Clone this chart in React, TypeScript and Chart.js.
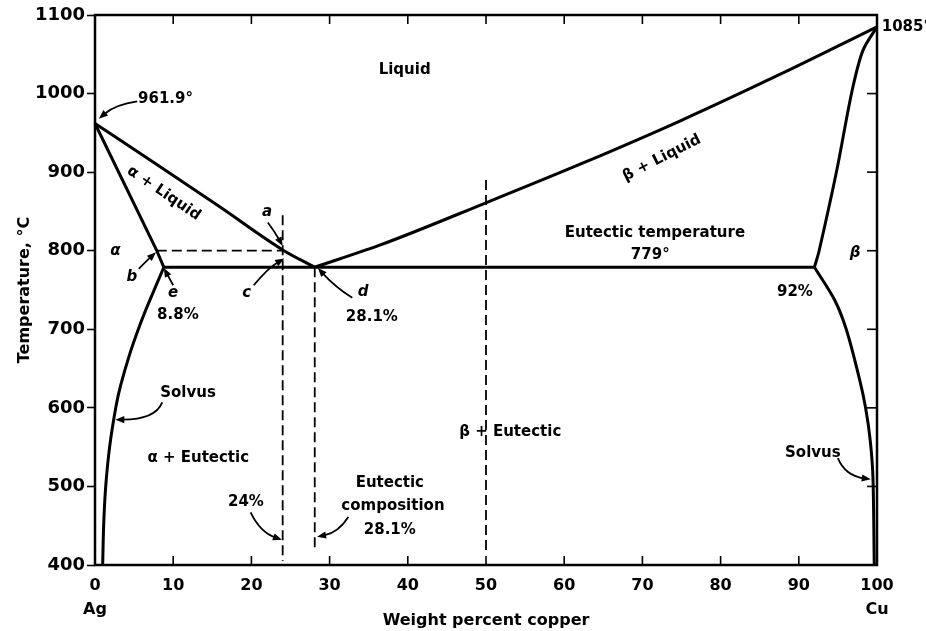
import React, { useEffect, useRef } from 'react';
import { Chart, registerables } from 'chart.js';

Chart.register(...registerables);

// ---------- data (weight % Cu, temperature °C) ----------
const xTicks = [0, 10, 20, 30, 40, 50, 60, 70, 80, 90, 100];
const yTicks = [400, 500, 600, 700, 800, 900, 1000, 1100];

const liquidusAgX = [0, 8, 16, 24, 28.1];
const liquidusAgT = [961.9, 909, 855.5, 801, 779];
const solidusAgX = [0, 7.9, 8.8];
const solidusAgT = [961.9, 800, 779];
const solvusAgX = [8.8, 6.76, 5.65, 4.49, 3.26, 2.67, 1.88, 1.37, 1.11, 0.98];
const solvusAgT = [779, 731, 703, 670, 628, 601, 551, 500, 451, 400];
const eutecticX = [8.8, 92];
const eutecticT = [779, 779];
const liquidusCuX = [28.1, 36.4, 50, 62.5, 75, 87.5, 100];
const liquidusCuT = [779, 807, 861, 912, 966, 1024, 1085];
const solidusCuX = [92, 92.6, 94.85, 96.8, 98.2, 100];
const solidusCuT = [779, 800, 902, 1003, 1055, 1085];
const solvusCuX = [92, 94.6, 96.1, 97.8, 98.54, 99.13, 99.48, 99.65];
const solvusCuT = [779, 737, 699, 635, 600, 559, 512, 400];

const comp24X = [24, 24];
const comp24T = [845, 405];
const comp281X = [28.1, 28.1];
const comp281T = [779, 418];
const comp50X = [50, 50];
const comp50T = [890, 418];
const iso800X = [7.9, 24];
const iso800T = [800, 800];

// ---------- annotations (anchored in data units) ----------
type Label = { text: string; x: number; t: number; align?: CanvasTextAlign; rot?: number; italic?: boolean };
const labels: Label[] = [
  { text: 'Liquid', x: 39.6, t: 1030 },
  { text: '961.9°', x: 5.5, t: 993, align: 'left' },
  { text: 'α + Liquid', x: 8.8, t: 873, rot: 34 },
  { text: 'a', x: 22.0, t: 849, italic: true },
  { text: 'α', x: 2.6, t: 800, italic: true },
  { text: 'b', x: 4.7, t: 766, italic: true },
  { text: 'e', x: 10.0, t: 746, italic: true },
  { text: '8.8%', x: 10.6, t: 718 },
  { text: 'c', x: 19.4, t: 746, italic: true },
  { text: 'd', x: 34.3, t: 747, italic: true },
  { text: '28.1%', x: 35.4, t: 716 },
  { text: 'Eutectic temperature', x: 71.6, t: 822 },
  { text: '779°', x: 71.0, t: 794 },
  { text: 'β + Liquid', x: 72.5, t: 918, rot: -27 },
  { text: '1085°', x: 100.6, t: 1085, align: 'left' },
  { text: 'β', x: 97.2, t: 797, italic: true },
  { text: '92%', x: 89.5, t: 747 },
  { text: 'Solvus', x: 11.9, t: 619 },
  { text: 'α + Eutectic', x: 13.2, t: 536 },
  { text: 'β + Eutectic', x: 53.1, t: 569 },
  { text: 'Solvus', x: 91.8, t: 542 },
  { text: '24%', x: 19.3, t: 480 },
  { text: 'Eutectic', x: 37.7, t: 504 },
  { text: 'composition', x: 38.1, t: 475 },
  { text: '28.1%', x: 37.7, t: 444 },
];

// arrows: tail, control, head
type Arrow = [number, number, number, number, number, number];
const arrows: Arrow[] = [
  [5.4, 990, 2.6, 986, 0.5, 968],
  [22.1, 836, 23.0, 824, 24.0, 806],
  [5.6, 777, 6.7, 788, 7.8, 798],
  [10.0, 756, 9.4, 767, 8.8, 778],
  [20.3, 756, 22.1, 778, 24.2, 790],
  [32.9, 740, 30.7, 754, 28.5, 778],
  [8.6, 607, 7.7, 585, 2.6, 585],
  [95.0, 536, 95.9, 514, 99.2, 509],
  [19.9, 467, 21.1, 442, 23.9, 432],
  [32.4, 461, 31.1, 441, 28.4, 436],
];

const FONT = '"DejaVu Sans", sans-serif';

const pts = (xs: number[], ts: number[]) => xs.map((v, i) => ({ x: v, y: ts[i] }));
const solid = (xs: number[], ts: number[]) => ({
  data: pts(xs, ts),
  showLine: true,
  borderColor: '#000',
  borderWidth: 3,
  pointRadius: 0,
  cubicInterpolationMode: 'monotone',
  fill: false,
  clip: false as const,
});
const smooth = (xs: number[], ts: number[]) => ({
  ...solid(xs, ts),
  cubicInterpolationMode: 'default',
  tension: 0.3,
});
const straight = (xs: number[], ts: number[]) => ({
  ...solid(xs, ts),
  cubicInterpolationMode: 'default',
  tension: 0,
});
const dashed = (xs: number[], ts: number[]) => ({
  ...straight(xs, ts),
  borderWidth: 1.8,
  borderDash: [10, 5],
});

const overlay = {
  id: 'phaseOverlay',
  afterDraw(chart: any) {
    const { ctx, chartArea: ca, scales } = chart;
    const sx = scales.x;
    const sy = scales.y;
    ctx.save();
    ctx.strokeStyle = '#000';
    ctx.fillStyle = '#000';
    // frame
    ctx.lineWidth = 2.5;
    ctx.strokeRect(ca.left, ca.top, ca.right - ca.left, ca.bottom - ca.top);
    // inside ticks
    ctx.lineWidth = 1.6;
    const seg = (a: number, b: number, c: number, d: number) => {
      ctx.beginPath();
      ctx.moveTo(a, b);
      ctx.lineTo(c, d);
      ctx.stroke();
    };
    xTicks.slice(1, -1).forEach((v) => {
      const px = sx.getPixelForValue(v);
      seg(px, ca.bottom, px, ca.bottom - 9);
      seg(px, ca.top, px, ca.top + 9);
    });
    yTicks.slice(1, -1).forEach((v) => {
      const py = sy.getPixelForValue(v);
      seg(ca.right, py, ca.right - 10, py);
    });
    // arrows
    ctx.lineWidth = 1.8;
    arrows.forEach(([x0, t0, x1, t1, x2, t2]) => {
      const ax = sx.getPixelForValue(x0), ay = sy.getPixelForValue(t0);
      const bx = sx.getPixelForValue(x1), by = sy.getPixelForValue(t1);
      const cx = sx.getPixelForValue(x2), cy = sy.getPixelForValue(t2);
      const ang = Math.atan2(cy - by, cx - bx);
      const L = 9, W = 3.6;
      const ex = cx - Math.cos(ang) * L * 0.8, ey = cy - Math.sin(ang) * L * 0.8;
      ctx.beginPath();
      ctx.moveTo(ax, ay);
      ctx.quadraticCurveTo(bx, by, ex, ey);
      ctx.stroke();
      ctx.beginPath();
      ctx.moveTo(cx, cy);
      ctx.lineTo(cx - Math.cos(ang) * L - Math.sin(ang) * W, cy - Math.sin(ang) * L + Math.cos(ang) * W);
      ctx.lineTo(cx - Math.cos(ang) * L + Math.sin(ang) * W, cy - Math.sin(ang) * L - Math.cos(ang) * W);
      ctx.closePath();
      ctx.fill();
    });
    // labels
    ctx.textBaseline = 'middle';
    labels.forEach((l) => {
      const px = sx.getPixelForValue(l.x);
      const py = sy.getPixelForValue(l.t);
      ctx.font = `${l.italic ? 'italic ' : ''}bold 15px ${FONT}`;
      ctx.textAlign = l.align || 'center';
      if (l.rot) {
        ctx.save();
        ctx.translate(px, py);
        ctx.rotate((l.rot * Math.PI) / 180);
        ctx.fillText(l.text, 0, 0);
        ctx.restore();
      } else {
        ctx.fillText(l.text, px, py);
      }
    });
    ctx.restore();
  },
};

export default function App() {
  const ref = useRef<HTMLCanvasElement>(null);
  useEffect(() => {
    if (!ref.current) return;
    const chart = new Chart(ref.current, {
      type: 'scatter',
      data: {
        datasets: [
          solid(liquidusAgX, liquidusAgT),
          straight(solidusAgX, solidusAgT),
          smooth(solvusAgX, solvusAgT),
          straight(eutecticX, eutecticT),
          solid(liquidusCuX, liquidusCuT),
          smooth(solidusCuX, solidusCuT),
          smooth(solvusCuX, solvusCuT),
          dashed(comp24X, comp24T),
          dashed(comp281X, comp281T),
          dashed(comp50X, comp50T),
          dashed(iso800X, iso800T),
        ] as any,
      },
      options: {
        animation: false,
        responsive: false,
        devicePixelRatio: 1,
        events: [],
        layout: { padding: { left: 0, top: 15, right: 49, bottom: 0 } },
        plugins: { legend: { display: false }, tooltip: { enabled: false } },
        scales: {
          x: {
            type: 'linear',
            min: 0,
            max: 100,
            afterFit: (s: any) => {
              s.height = 66;
            },
            afterBuildTicks: (s: any) => {
              s.ticks = xTicks.map((v) => ({ value: v }));
            },
            grid: { display: false },
            border: { display: false },
            ticks: {
              autoSkip: false,
              maxRotation: 0,
              padding: 1,
              color: '#000',
              font: { family: FONT, size: 16, weight: 'bold', lineHeight: 1.5 },
              callback: (v: any) => (v === 0 ? ['0', 'Ag'] : v === 100 ? ['100', 'Cu'] : String(v)),
            },
            title: {
              display: true,
              text: 'Weight percent copper',
              color: '#000',
              font: { family: FONT, size: 16, weight: 'bold', lineHeight: 1.2 },
              padding: { top: 0, bottom: 1 },
            },
          },
          y: {
            type: 'linear',
            min: 400,
            max: 1100,
            afterFit: (s: any) => {
              s.width = 95;
            },
            afterBuildTicks: (s: any) => {
              s.ticks = yTicks.map((v) => ({ value: v }));
            },
            grid: {
              display: true,
              drawOnChartArea: false,
              drawTicks: true,
              tickLength: 8,
              tickWidth: 1.6,
              tickColor: '#000',
            },
            border: { display: false },
            ticks: {
              padding: 2,
              color: '#000',
              font: { family: FONT, size: 18, weight: 'bold' },
              callback: (v: any) => String(v),
            },
            title: {
              display: true,
              text: 'Temperature, °C',
              color: '#000',
              font: { family: FONT, size: 16, weight: 'bold', lineHeight: 1.2 },
              padding: { top: 15, bottom: 0 },
            },
          },
        },
      } as any,
      plugins: [overlay],
    });
    return () => chart.destroy();
  }, []);
  return (
    <div style={{ position: 'absolute', left: 0, top: 0, width: 926, height: 631, background: '#fff' }}>
      <canvas ref={ref} width={926} height={631} style={{ display: 'block' }} />
    </div>
  );
}
